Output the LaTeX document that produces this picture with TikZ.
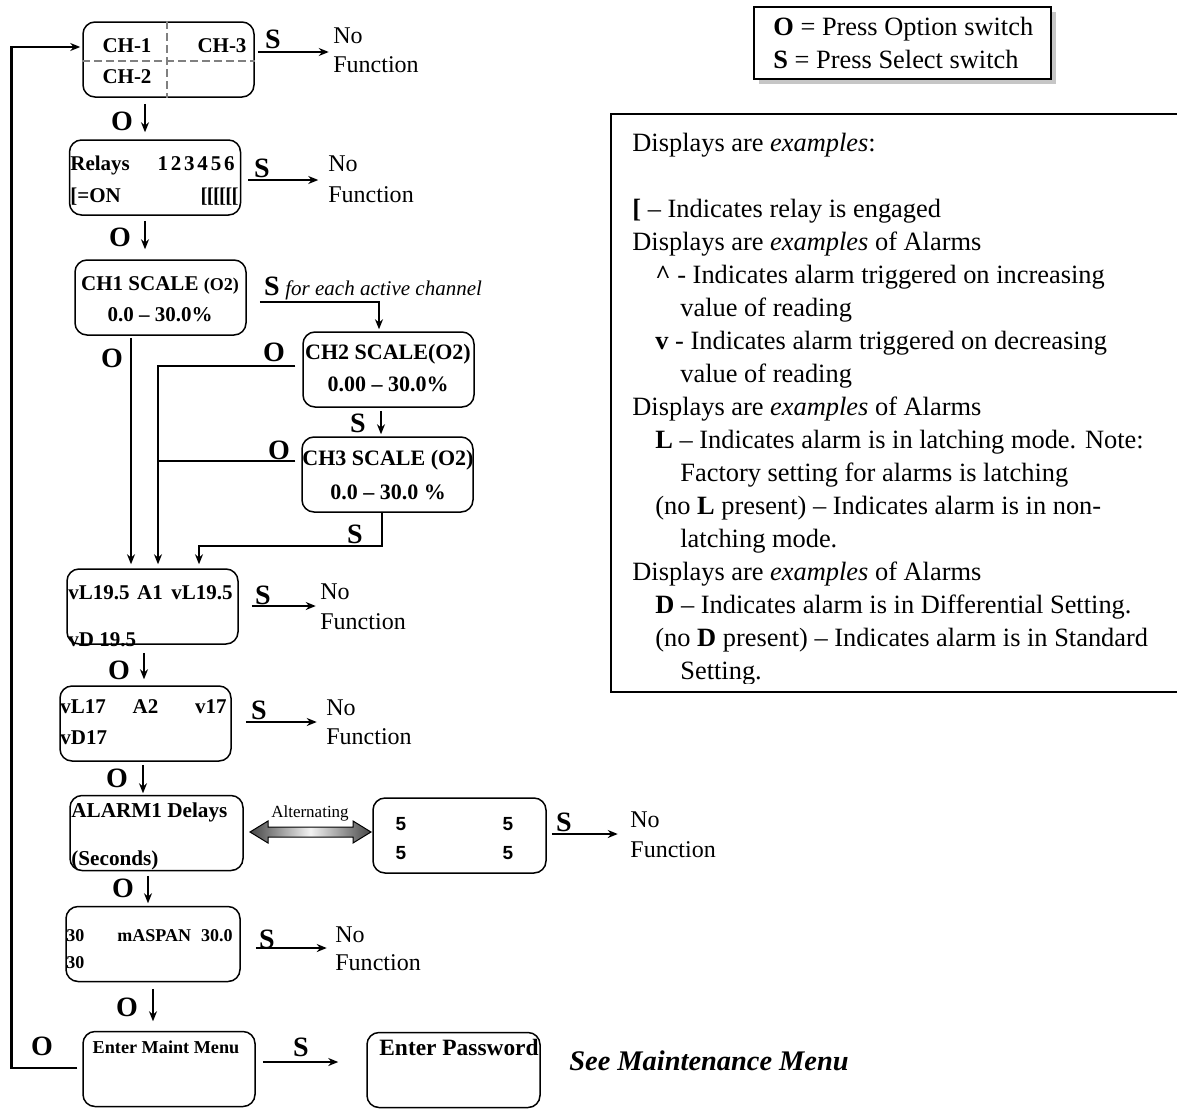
\documentclass[tikz,border=0pt]{standalone}
\usepackage{graphicx}
\usepackage{fontspec}
\setmainfont{Liberation Serif}
\newfontfamily\arialf{Liberation Sans}
\usetikzlibrary{arrows.meta,calc}
\newcommand{\myfs}[1]{\fontsize{#1}{#1}\selectfont}
\begin{document}
\begin{tikzpicture}[x=0.5pt,y=-0.5pt,
  box/.style={draw,rounded corners=6pt,line width=0.75pt,minimum width=85.5pt,minimum height=37.5pt,inner sep=0pt},
  bt/.style={font=\myfs{10.5}\bfseries,inner sep=0pt},
  lbl/.style={font=\myfs{14}\bfseries,inner sep=0pt},
  nf/.style={font=\myfs{12},inner sep=0pt,anchor=west},
  arr/.style={line width=0.9pt,-{Stealth[length=5pt,width=4pt]}},
  darr/.style={line width=0.7pt,-{Stealth[length=5pt,width=4pt]}},
  conn/.style={line width=1pt},
  lg/.style={font=\myfs{13.2},inner sep=0pt,anchor=base west},
  five/.style={font=\arialf\bfseries\myfs{9.5},inner sep=0pt,anchor=base},
]
\useasboundingbox (0,0) rectangle (1177,1108);

% ---------- boxes ----------
\node[box] (ch) at (168.5,59.5) {};
\node[box] (rel) at (155,177.5) {};
\node[box] (ch1) at (160.5,297.5) {};
\node[box] (ch2) at (388.5,369.5) {};
\node[box] (ch3) at (387.5,474.5) {};
\node[box] (al1) at (152.5,606.5) {};
\node[box] (al2) at (145.5,723.5) {};
\node[box,minimum width=86.5pt] (dly) at (156.5,833) {};
\node[box,minimum width=86.5pt] (five) at (459.5,835.5) {};
\node[box,minimum width=87pt] (span) at (153,944) {};
\node[box,minimum width=86pt] (maint) at (169,1069) {};
\node[box,minimum width=86.5pt] (pw) at (453.5,1070) {};

% CH box dashed dividers
\draw[gray,line width=0.75pt,dash pattern=on 4pt off 2pt] ($(ch.north)+(-1.5,0)$) -- ($(ch.south)+(-1.5,0)$);
\draw[gray,line width=0.75pt,dash pattern=on 4pt off 2pt] ($(ch.west)+(0,1.5)$) -- ($(ch.east)+(0,1.5)$);

% ---------- box texts ----------
\node[bt,font=\myfs{10.5}\bfseries,anchor=base] (t1a) at (127,52) {CH-1};
\node[bt,font=\myfs{10.5}\bfseries,anchor=base] (t1b) at (222,52) {CH-3};
\node[bt,font=\myfs{10.5}\bfseries,anchor=base] (t1c) at (127,83) {CH-2};

\node[bt,anchor=base west] (t2a) at (70,170) {Relays};
\node[bt,anchor=base east] (t2b) at (235,170) {1\kern1.4pt 2\kern1.4pt 3\kern1.4pt 4\kern1.4pt 5\kern1.4pt 6};
\node[bt,anchor=base west] (t2c) at (70,202) {{[}=ON};
\node[bt,anchor=base east] (t2d) at (239,202) {{[}\kern-.4pt{[}\kern-.4pt{[}\kern-.4pt{[}\kern-.4pt{[}\kern-.4pt{[}};

\node[bt,anchor=base] (t3a) at (160,290) {CH1 SCALE {\myfs{9}(O2)}};
\node[bt,anchor=base] (t3b) at (160,321) {0.0 – 30.0\%};

\node[bt,font=\myfs{11}\bfseries,anchor=base] (t4a) at (388,359) {CH2 SCALE(O2)};
\node[bt,font=\myfs{11}\bfseries,anchor=base] (t4b) at (388,391) {0.00 – 30.0\%};

\node[bt,font=\myfs{11}\bfseries,anchor=base] (t5a) at (388,465) {CH3 SCALE (O2)};
\node[bt,font=\myfs{11}\bfseries,anchor=base] (t5b) at (388,499) {0.0 – 30.0 \%};

\node[bt,anchor=base west] (t6a) at (68,599) {vL19.5};
\node[bt,anchor=base] (t6b) at (150,599) {A1};
\node[bt,anchor=base east] (t6c) at (233,599) {vL19.5};
\node[bt,anchor=base west] (t6d) at (68,646) {vD 19.5};

\node[bt,anchor=base west] (t7a) at (60,713) {vL17};
\node[bt,anchor=base] (t7b) at (145.5,713) {A2};
\node[bt,anchor=base east] (t7c) at (227,713) {v17};
\node[bt,anchor=base west] (t7d) at (60,744) {vD17};

\node[bt,font=\myfs{10.6}\bfseries,anchor=base west] (t8a) at (71,817) {ALARM1 Delays};
\node[bt,font=\myfs{10.6}\bfseries,anchor=base west] (t8b) at (71,865) {(Seconds)};

\node[five] (f1) at (401,830) {5};
\node[five] (f2) at (508,830) {5};
\node[five] (f3) at (401,859) {5};
\node[five] (f4) at (508,859) {5};

\node[bt,font=\myfs{9}\bfseries,anchor=base west] (t9a) at (66,941) {30};
\node[bt,font=\myfs{9}\bfseries,anchor=base east] (t9b) at (233,941) {mASPAN\hspace{5pt}30.0};
\node[bt,font=\myfs{9}\bfseries,anchor=base west] (t9c) at (66,968) {30};

\node[bt,font=\myfs{9.1}\bfseries,anchor=base] (t10) at (166,1053) {Enter Maint Menu};
\node[bt,font=\myfs{11.7}\bfseries,anchor=base] (t11) at (459,1055) {Enter Password};
\node[font=\myfs{14.2}\bfseries\itshape,inner sep=0pt,anchor=base] (see) at (709,1070) {See Maintenance Menu};

% ---------- S / O labels ----------
\node[lbl] (s1) at (273,39) {S};
\node[lbl] (s2) at (262,168) {S};
\node[lbl] (s3) at (272,286) {S};
\node[lbl] (s4) at (358,423) {S};
\node[lbl] (s5) at (355,534) {S};
\node[lbl] (s6) at (263,595) {S};
\node[lbl] (s7) at (259,710) {S};
\node[lbl] (s8) at (564,822) {S};
\node[lbl] (s9) at (267,939) {S};
\node[lbl] (s10) at (301,1047) {S};

\node[lbl] (o1) at (122,121) {O};
\node[lbl] (o2) at (120,237) {O};
\node[lbl] (o3) at (112,358) {O};
\node[lbl] (o4) at (274,352) {O};
\node[lbl] (o5) at (279,450) {O};
\node[lbl] (o6) at (119,670) {O};
\node[lbl] (o7) at (117,778) {O};
\node[lbl] (o8) at (123,888) {O};
\node[lbl] (o9) at (127,1007) {O};
\node[lbl] (o10) at (42,1046) {O};

\node[font=\myfs{10.5}\itshape,inner sep=0pt,anchor=base west] (fe) at (285,295) {for each active channel};

% ---------- No Function ----------
\node[nf] (n1a) at (333,36) {No};   \node[nf] (n1b) at (333,65) {Function};
\node[nf] (n2a) at (328,164) {No};  \node[nf] (n2b) at (328,195) {Function};
\node[nf] (n6a) at (320,592) {No};  \node[nf] (n6b) at (320,622) {Function};
\node[nf] (n7a) at (326,708) {No};  \node[nf] (n7b) at (326,737) {Function};
\node[nf] (n8a) at (630,820) {No};  \node[nf] (n8b) at (630,850) {Function};
\node[nf] (n9a) at (335,935) {No};  \node[nf] (n9b) at (335,963) {Function};

% ---------- S arrows ----------
\draw[arr] ($(ch.east)+(3,-7.5)$) -- ++(71,0);
\draw[arr] ($(rel.east)+(7,2.5)$) -- ++(70,0);
\draw[arr] ($(al1.east)+(13,-0.5)$) -- ++(64,0);
\draw[arr] ($(al2.east)+(14,-1.5)$) -- ++(71,0);
\draw[arr] ($(five.east)+(5,-1.5)$) -- ++(66,0);
\draw[arr] ($(span.east)+(15,4)$) -- ++(71,0);
\draw[arr] ($(maint.east)+(7,-7)$) -- ($(pw.west)+(-28,-8)$);

% ---------- O down arrows ----------
\draw[darr] ($(ch.south)+(-23.5,6)$) -- ($(rel.north)+(-10,-7)$);
\draw[darr] ($(rel.south)+(-10,5)$) -- ($(ch1.north)+(-15.5,-10)$);
\draw[darr] ($(ch2.south)+(-7.5,3)$) -- ($(ch3.north)+(-6.5,-2)$);
\draw[darr] ($(al1.south)+(-8.5,8)$) -- ($(al2.north)+(-1.5,-6)$);
\draw[darr] ($(al2.south)+(-2.5,3)$) -- ($(dly.north)+(-13.5,-1.5)$);
\draw[darr] ($(dly.south)+(-8.5,4.5)$) -- ($(span.north)+(-5,-2.5)$);
\draw[darr] ($(span.south)+(0,6.5)$) -- ($(maint.north)+(-16,-9.5)$);

% ---------- channel connectors ----------
\coordinate (jx) at ($(al1.north)+(5.5,-4)$);
\draw[arr,conn] ($(ch1.east)+(13,4.5)$) -| ($(ch2.north)+(-9.5,-2)$);
\draw[arr,conn] ($(ch1.south)+(-29.5,2)$) -- ($(al1.north)+(-21.5,-4)$);
\draw[arr,conn] ($(ch2.west)+(-7,-3.5)$) -| (jx);
\draw[conn] ($(ch3.west)+(-6,-13.5)$) coordinate (c3l) -- (c3l -| jx);
\draw[arr,conn] ($(ch3.south)+(-5.5,0)$) -- ++(0,33) -| ($(al1.north)+(46.5,-4)$);

% ---------- feedback loop ----------
\draw[arr,line width=1.4pt] ($(maint.west)+(-5,-1)$) -- ++(-66,0) |- ($(ch.west)+(-2,-12.5)$);

% ---------- alternating double arrow ----------
\shadedraw[left color=gray!55!black,right color=gray!55!black,middle color=gray!10,draw=black,line width=0.5pt]
  (250,832) -- (268,821) -- (268,827) -- (353,827) -- (353,821) -- (371,832)
  -- (353,843) -- (353,837) -- (268,837) -- (268,843) -- cycle;
\node[font=\myfs{8.5},inner sep=0pt,anchor=base] (alt) at (310,817.5) {Alternating};

% ---------- legend 1 ----------
\fill[gray!45] (759,12) rectangle (1056,84);
\draw[fill=white,line width=1pt] (754,7) rectangle (1051,79);
\node[font=\myfs{13.2},inner sep=0pt,anchor=base west] (k1) at (773,35) {\textbf{O} = Press Option switch};
\node[font=\myfs{13.2},inner sep=0pt,anchor=base west] (k2) at (773,68) {\textbf{S} = Press Select switch};

% ---------- legend 2 ----------
\draw[line width=1pt] (1180,114) -- (611,114) -- (611,692) -- (1180,692);
\begin{scope}
\clip (600,100) rectangle (1177,683);
\node[lg] (l1) at (632,151) {Displays are \textit{examples}:};
\node[lg] (l2) at (632,217) {\textbf{[} – Indicates relay is engaged};
\node[lg] (l3) at (632,250) {Displays are \textit{examples} of Alarms};
\node[lg] (l4) at (655,283) {\textbf{\textasciicircum} - Indicates alarm triggered on increasing};
\node[lg] (l5) at (680,316) {value of reading};
\node[lg] (l6) at (655,349) {\textbf{v} - Indicates alarm triggered on decreasing};
\node[lg] (l7) at (680,382) {value of reading};
\node[lg] (l8) at (632,415) {Displays are \textit{examples} of Alarms};
\node[lg] (l9) at (655,448) {\textbf{L} – Indicates alarm is in latching mode. Note:};
\node[lg] (l10) at (680,481) {Factory setting for alarms is latching};
\node[lg] (l11) at (655,514) {(no \textbf{L} present) – Indicates alarm is in non-};
\node[lg] (l12) at (680,547) {latching mode.};
\node[lg] (l13) at (632,580) {Displays are \textit{examples} of Alarms};
\node[lg] (l14) at (655,613) {\textbf{D} – Indicates alarm is in Differential Setting.};
\node[lg] (l15) at (655,646) {(no \textbf{D} present) – Indicates alarm is in Standard};
\node[lg] (l16) at (680,679) {Setting.};
\end{scope}
\end{tikzpicture}
\end{document}
